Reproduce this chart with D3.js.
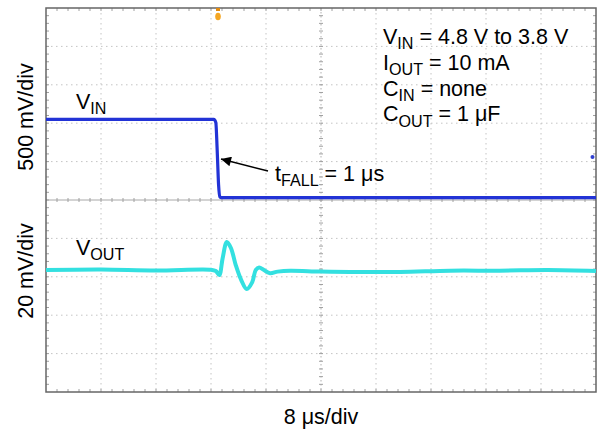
<!DOCTYPE html>
<html><head><meta charset="utf-8">
<script src="https://cdn.jsdelivr.net/npm/d3@7"></script>
<style>body{margin:0;background:#fff}svg{display:block}text{font-family:"Liberation Sans",Arial,sans-serif;fill:#000}</style>
</head><body><div id="c"></div>
<script>
// time in µs (8 µs/div, 10 div)
const timeDomain = [0, 80];
// VIN trace: time (µs), volts (500 mV/div)
const vinT = [0, 24.4, 24.7, 24.9, 25.1, 25.3, 25.5, 80];
const vinV = [4.8, 4.8, 4.76, 4.4, 3.95, 3.79, 3.78, 3.78];
// VOUT trace: time (µs), deviation in mV (20 mV/div)
const voutT = [0, 8, 16, 24, 24.7, 25.2, 25.7, 26.3, 26.9, 27.6, 28.4, 29.2, 30.0, 30.5, 31.0, 31.7, 32.6, 33.7, 35.5, 39.9, 44.2, 51.5, 58.8, 66, 73, 80];
const voutMv = [0, 0.3, -0.2, 0.2, -0.5, -2.6, 6.3, 14.6, 11.5, 2.6, -5.2, -9.9, -6.3, 0, 1.3, 0, -1.6, -0.8, -0.3, -0.8, -1.0, -1.0, -0.3, -0.3, 0, -0.5];
const vinDomain = [1.25, 6.25];
const voutDomain = [-63.5, 136.5];
const xLabel = "8 μs/div";
const yLabels = ["500 mV/div", "20 mV/div"];
const notes = [["V","IN"," = 4.8 V to 3.8 V"],["I","OUT"," = 10 mA"],["C","IN"," = none"],["C","OUT"," = 1 μF"]];

const W = 598, H = 433;
const L = 46, R = 596, T = 8, B = 392;
const svg = d3.select("#c").append("svg").attr("width", W).attr("height", H);
const x = d3.scaleLinear().domain(timeDomain).range([L, R]);
const yVin = d3.scaleLinear().domain(vinDomain).range([B, T]);
const yVout = d3.scaleLinear().domain(voutDomain).range([B, T]);
const xd = d3.scaleLinear().domain([0, 10]).range([L, R]);
const yd = d3.scaleLinear().domain([0, 10]).range([B, T]);

const g = svg.append("g");
// dotted grid
for (let i = 1; i < 10; i++) {
  if (i === 5) continue;
  g.append("line").attr("x1", xd(i)).attr("x2", xd(i)).attr("y1", T).attr("y2", B)
    .attr("stroke", "#c4c4c4").attr("stroke-width", 1).attr("stroke-dasharray", "1.5,3.5");
  g.append("line").attr("y1", yd(i)).attr("y2", yd(i)).attr("x1", L).attr("x2", R)
    .attr("stroke", "#c4c4c4").attr("stroke-width", 1).attr("stroke-dasharray", "1.5,3.5");
}
// center axes
g.append("line").attr("x1", xd(5)).attr("x2", xd(5)).attr("y1", T).attr("y2", B).attr("stroke", "#b0b0b0").attr("stroke-dasharray", "1.5,2.5");
g.append("line").attr("y1", yd(5)).attr("y2", yd(5)).attr("x1", L).attr("x2", R).attr("stroke", "#a8a8a8").attr("stroke-width", 1);
// minor ticks
for (let k = 1; k < 50; k++) {
  const xx = xd(k / 5);
  [[yd(5) - 2, yd(5) + 2], [T, T + 3], [B - 3, B]].forEach(([a, b]) =>
    g.append("line").attr("x1", xx).attr("x2", xx).attr("y1", a).attr("y2", b).attr("stroke", "#a0a0a0"));
  const yy = yd(k / 5);
  [[xd(5) - 2, xd(5) + 2], [L, L + 3], [R - 3, R]].forEach(([a, b]) =>
    g.append("line").attr("y1", yy).attr("y2", yy).attr("x1", a).attr("x2", b).attr("stroke", "#a0a0a0"));
}
// border
g.append("rect").attr("x", L).attr("y", T).attr("width", R - L).attr("height", B - T)
  .attr("fill", "none").attr("stroke", "#666").attr("stroke-width", 1.5);

// traces
const vinLine = d3.line().x(d => x(d[0])).y(d => yVin(d[1])).curve(d3.curveMonotoneX);
svg.append("path").datum(vinT.map((t, i) => [t, vinV[i]])).attr("d", vinLine)
  .attr("fill", "none").attr("stroke", "#2233d6").attr("stroke-width", 3.2);
const voutLine = d3.line().x(d => x(d[0])).y(d => yVout(d[1])).curve(d3.curveCatmullRom);
svg.append("path").datum(voutT.map((t, i) => [t, voutMv[i]])).attr("d", voutLine)
  .attr("fill", "none").attr("stroke", "#33e0e0").attr("stroke-width", 4);

// markers
svg.append("circle").attr("cx", 592.5).attr("cy", 157).attr("r", 2).attr("fill", "#3040d0");
svg.append("rect").attr("x", 216).attr("y", 8).attr("width", 4).attr("height", 3).attr("fill", "#e08a10");
svg.append("ellipse").attr("cx", 218).attr("cy", 16.5).attr("rx", 2.8).attr("ry", 3.8).attr("fill", "#f4a623");

// arrow
svg.append("defs").append("marker").attr("id", "ah").attr("viewBox", "0 0 10 10")
  .attr("refX", 10).attr("refY", 5).attr("markerWidth", 14).attr("markerHeight", 10)
  .attr("markerUnits", "userSpaceOnUse").attr("orient", "auto")
  .append("path").attr("d", "M0,0 L10,5 L0,10 Z").attr("fill", "#000");
svg.append("line").attr("x1", 268).attr("y1", 171).attr("x2", 221).attr("y2", 159)
  .attr("stroke", "#000").attr("stroke-width", 1.5).attr("marker-end", "url(#ah)");

const FS = 21.5;
function sub(sel, xx, yy, main, s, rest, fs) {
  const t = sel.append("text").attr("x", xx).attr("y", yy).attr("font-size", fs);
  t.append("tspan").text(main);
  t.append("tspan").attr("font-size", fs * 0.75).attr("dy", fs * 0.25).text(s);
  if (rest) t.append("tspan").attr("dy", -fs * 0.25).text(rest);
  return t;
}
sub(svg, 76, 109, "V", "IN", null, FS);
sub(svg, 76, 255, "V", "OUT", null, FS);
sub(svg, 275, 181, "t", "FALL", " = 1 μs", FS);
notes.forEach((n, i) => sub(svg, 383, 44 + i * 25.8, n[0], n[1], n[2], FS));

svg.append("text").attr("x", 321).attr("y", 424).attr("text-anchor", "middle").attr("font-size", FS).text(xLabel);
svg.append("text").attr("transform", "translate(33,117) rotate(-90)").attr("text-anchor", "middle").attr("font-size", FS).text(yLabels[0]);
svg.append("text").attr("transform", "translate(33,271) rotate(-90)").attr("text-anchor", "middle").attr("font-size", FS).text(yLabels[1]);
</script></body></html>
